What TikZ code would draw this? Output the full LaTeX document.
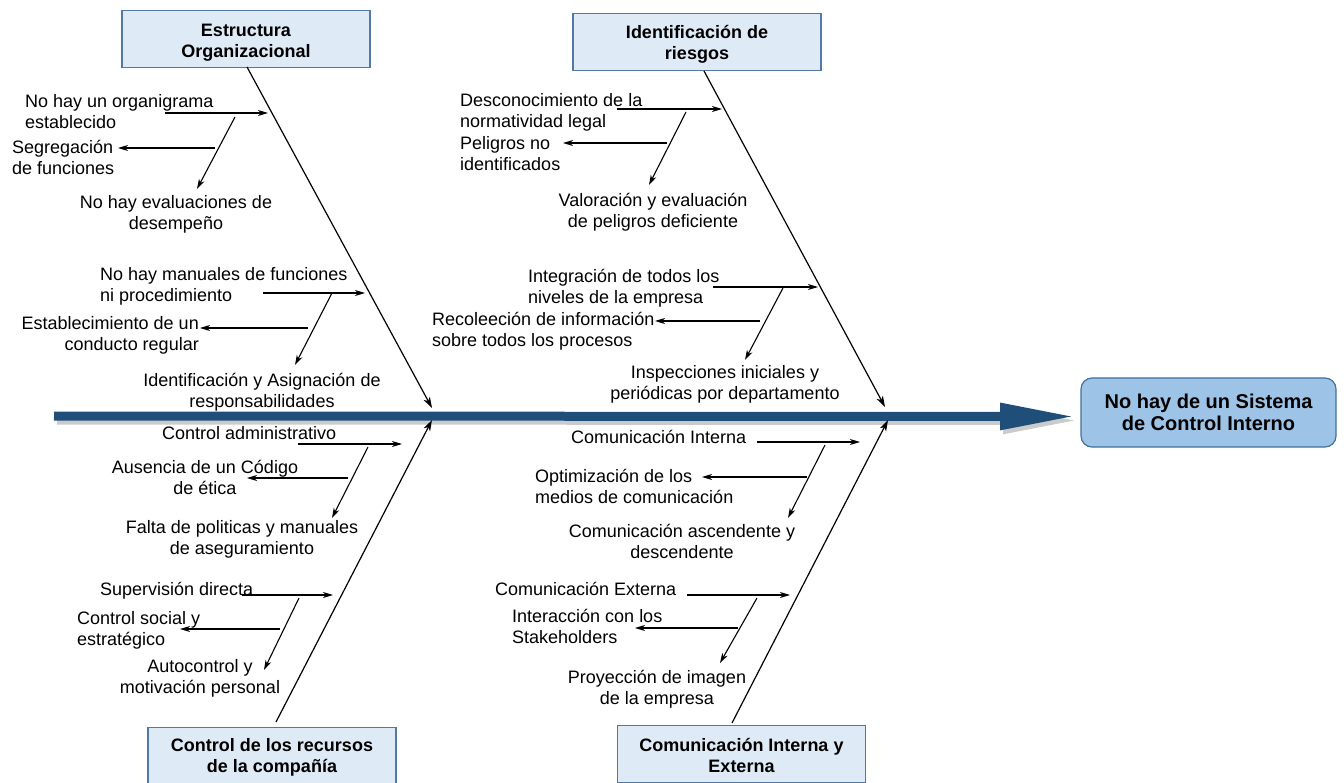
\documentclass[tikz,border=0pt]{standalone}
\usepackage{fontspec}
\setmainfont{Liberation Sans}
\usetikzlibrary{arrows.meta}
\definecolor{spineblue}{RGB}{31,78,121}
\definecolor{catfill}{RGB}{222,235,247}
\definecolor{catdraw}{RGB}{84,120,165}
\definecolor{effectfill}{RGB}{157,195,230}
\definecolor{effectdraw}{RGB}{65,113,156}
\begin{document}
\begin{tikzpicture}[x=1pt,y=-1pt,
  cause/.style={inner sep=0pt,font=\fontsize{18}{21}\selectfont},
  catbox/.style={draw=catdraw,fill=catfill,line width=1.2pt,minimum width=248pt,minimum height=57pt,inner sep=0pt},
  cattext/.style={align=center,inner sep=0pt,font=\fontsize{18}{21}\selectfont\bfseries},
  effectbox/.style={draw=effectdraw,fill=effectfill,line width=1.2pt,rounded corners=11pt,
    minimum width=255pt,minimum height=69pt,align=center,inner sep=0pt,
    font=\fontsize{20}{22}\selectfont\bfseries},
  bone/.style={line width=1.2pt,-{Stealth[length=11pt,width=7pt,inset=3pt]}},
  twig/.style={line width=1.1pt,-{Stealth[length=10pt,width=6pt,inset=3pt]}}]
\useasboundingbox (0,0) rectangle (1344,783);

% effect and category boxes
\node[effectbox] (effect) at (1208.5,412.5) {No hay de un Sistema\\de Control Interno};
\node[catbox] (estructura) at (246,39) {};
\node[catbox] (riesgos) at (697,42) {};
\node[catbox] (recursos) at (272,756) {};
\node[catbox] (comunicacion) at (741.5,754) {};
\node[cattext] (estructuraT) at ([yshift=-4pt]estructura.center) {Estructura\\Organizacional};
\node[cattext] (riesgosT) at ([yshift=-2pt]riesgos.center) {Identificación de\\riesgos};
\node[cattext] (recursosT) at ([yshift=-1.5pt]recursos.center) {Control de los recursos\\de la compañía};
\node[cattext] (comunicacionT) at ([yshift=-1pt]comunicacion.center) {Comunicación Interna y\\Externa};

% spine
\coordinate (spineS) at (54,416);
\coordinate (spineE) at (1075,416.5);
\draw[line width=9pt,black!45,opacity=0.45,-{Triangle[length=75pt,width=25pt]}]
  ([shift={(3,4)}]spineS) -- ([shift={(3,4)}]spineE);
\draw[line width=9pt,spineblue,-{Triangle[length=75pt,width=25pt]}] (spineS) -- (spineE);

% main bones
\coordinate (b1s) at (247,67);   \coordinate (b1e) at (432,408);
\coordinate (b2s) at (704,71);   \coordinate (b2e) at (885,407);
\coordinate (b3s) at (276,722);  \coordinate (b3e) at (432,420);
\coordinate (b4s) at (732,723);  \coordinate (b4e) at (888,420);
\draw[bone] (b1s) -- (b1e);
\draw[bone] (b2s) -- (b2e);
\draw[bone] (b3s) -- (b3e);
\draw[bone] (b4s) -- (b4e);

% cause texts: Estructura Organizacional
\node[cause,anchor=north west,align=left] (c11) at (25,94) {No hay un organigrama\\establecido};
\node[cause,anchor=north west,align=left] (c12) at (12,140) {Segregación\\de funciones};
\node[cause,anchor=north,align=center] (c13) at (176,195) {No hay evaluaciones de\\desempeño};
\node[cause,anchor=north west,align=left] (c14) at (100,267) {No hay manuales de funciones\\ni procedimiento};
\node[cause,anchor=north east,align=right] (c15) at (199,316) {Establecimiento de un\\conducto regular};
\node[cause,anchor=north,align=center] (c16) at (262,373) {Identificación y Asignación de\\responsabilidades};

% cause texts: Identificacion de riesgos
\node[cause,anchor=north west,align=left] (c21) at (460,93) {Desconocimiento de la\\normatividad legal};
\node[cause,anchor=north west,align=left] (c22) at (460,136) {Peligros no\\identificados};
\node[cause,anchor=north,align=center] (c23) at (653,193) {Valoración y evaluación\\de peligros deficiente};
\node[cause,anchor=north west,align=left] (c24) at (528,269) {Integración de todos los\\niveles de la empresa};
\node[cause,anchor=north west,align=left] (c25) at (432,312) {Recoleeción de información\\sobre todos los procesos};
\node[cause,anchor=north,align=center] (c26) at (725,365) {Inspecciones iniciales y\\periódicas por departamento};

% cause texts: Control de los recursos
\node[cause,anchor=north west] (c31) at (162,426) {Control administrativo};
\node[cause,anchor=north,align=center] (c32) at (205,460) {Ausencia de un Código\\de ética};
\node[cause,anchor=north,align=center] (c33) at (242,520) {Falta de politicas y manuales\\de aseguramiento};
\node[cause,anchor=north west] (c34) at (100,582) {Supervisión directa};
\node[cause,anchor=north west,align=left] (c35) at (77,611) {Control social y\\estratégico};
\node[cause,anchor=north,align=center] (c36) at (200,659) {Autocontrol y\\motivación personal};

% cause texts: Comunicacion
\node[cause,anchor=north west] (c41) at (571,430) {Comunicación Interna};
\node[cause,anchor=north west,align=left] (c42) at (535,469) {Optimización de los\\medios de comunicación};
\node[cause,anchor=north,align=center] (c43) at (682,524) {Comunicación ascendente y\\descendente};
\node[cause,anchor=north west] (c44) at (495,582) {Comunicación Externa};
\node[cause,anchor=north west,align=left] (c45) at (512,609) {Interacción con los\\Stakeholders};
\node[cause,anchor=north,align=center] (c46) at (657,670) {Proyección de imagen\\de la empresa};

% sub-branches (in, diagonal, out) for each group
\foreach \g/\ax/\ay/\bx/\ds/\dsy/\dex/\dey/\lsx/\lsy/\lex in {
  g1/165/113/268/235/117/197/189/215/148/118,
  g2/263/293/365/332/293/295/365/308/328/200,
  g3/617/109/722/686/112/649/185/667/143/563,
  g4/713/287/818/783/288/745/360/760/321/655,
  g5/298/444/402/368/447/332/518/348/478/247,
  g6/242/595/333/299/598/264/670/280/629/180,
  g7/757/442/860/825/445/788/518/807/477/702,
  g8/687/595/790/757/598/720/663/738/628/635}{
  \coordinate (\g-in) at (\ax,\ay);
  \coordinate (\g-to) at (\bx,\ay);
  \coordinate (\g-ds) at (\ds,\dsy);
  \coordinate (\g-de) at (\dex,\dey);
  \coordinate (\g-ls) at (\lsx,\lsy);
  \coordinate (\g-le) at (\lex,\lsy);
  \draw[twig] (\g-in) -- (\g-to);
  \draw[twig] (\g-ds) -- (\g-de);
  \draw[twig] (\g-ls) -- (\g-le);
}
\end{tikzpicture}
\end{document}
